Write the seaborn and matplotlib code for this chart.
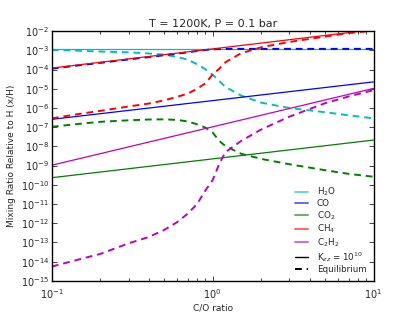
import numpy as np
import pandas as pd
import seaborn as sns
import matplotlib.pyplot as plt
from matplotlib.lines import Line2D

# C/O grid and log10 mixing ratios
co_ratio = [0.1, 0.15, 0.2, 0.3, 0.4, 0.5, 0.6, 0.7, 0.8, 0.9, 1.0, 1.1, 1.2, 1.5, 2, 3, 5, 7, 10]

# Kzz = 1e10 (solid, straight in log-log)
h2o_kzz = [-2.92] * len(co_ratio)
co_kzz_ends = (-6.59, -4.64)
co2_kzz_ends = (-9.63, -7.67)
ch4_kzz_ends = (-3.92, -1.92)
c2h2_kzz_ends = (-8.98, -4.98)

# Equilibrium (dashed)
h2o_eq = [-2.97, -3.02, -3.06, -3.10, -3.16, -3.22, -3.34, -3.48, -3.72, -3.98,
          -4.27, -4.60, -4.90, -5.35, -5.72, -6.00, -6.22, -6.38, -6.54]
co_eq = [-3.95, -3.77, -3.65, -3.47, -3.35, -3.25, -3.17, -3.10, -3.03, -2.98,
         -2.94, -2.93, -2.92, -2.92, -2.92, -2.92, -2.92, -2.92, -2.92]
co2_eq = [-6.98, -6.82, -6.72, -6.64, -6.60, -6.59, -6.62, -6.70, -6.85, -7.02,
          -7.28, -7.72, -7.98, -8.38, -8.65, -8.93, -9.24, -9.43, -9.58]
ch4_eq = [-6.54, -6.30, -6.15, -5.92, -5.77, -5.60, -5.42, -5.25, -5.00, -4.72,
          -4.25, -3.95, -3.62, -3.15, -2.84, -2.56, -2.28, -2.10, -1.97]
c2h2_eq = [-14.26, -13.87, -13.60, -13.05, -12.72, -12.35, -11.95, -11.50, -11.00, -10.30,
           -9.75, -8.90, -8.30, -7.72, -7.12, -6.45, -5.75, -5.40, -5.07]

species = ["H$_2$O", "CO", "CO$_2$", "CH$_4$", "C$_2$H$_2$"]
colors = ["c", "b", "g", "r", "m"]


def straight(ends):
    # linear in log-log between the two end values
    lx = np.log10(co_ratio)
    return list(ends[0] + (ends[1] - ends[0]) * (lx + 1) / 2)


kzz = [h2o_kzz, straight(co_kzz_ends), straight(co2_kzz_ends),
       straight(ch4_kzz_ends), straight(c2h2_kzz_ends)]
eq = [h2o_eq, co_eq, co2_eq, ch4_eq, c2h2_eq]

sns.set_style("ticks", {"xtick.direction": "in", "ytick.direction": "in",
                        "axes.edgecolor": "black"})
plt.rcParams["font.family"] = ["DejaVu Sans"]
plt.rcParams["mathtext.fontset"] = "dejavusans"

fig = plt.figure(figsize=(4.15, 3.12), dpi=100)
ax = fig.add_axes([0.125, 0.1, 0.775, 0.8])

dash = (0, (3.5, 2.5))
# per species: solid then dashed, so later species sit on top
for name, c, ys_k, ys_e in zip(species, colors, kzz, eq):
    dk = pd.DataFrame({"co": co_ratio, "val": np.power(10.0, ys_k)})
    sns.lineplot(data=dk, x="co", y="val", color=c, linewidth=0.9, ax=ax)
    de = pd.DataFrame({"co": co_ratio, "val": np.power(10.0, ys_e)})
    sns.lineplot(data=de, x="co", y="val", color=c, linewidth=1.4,
                 linestyle=dash, ax=ax)

ax.set_xscale("log")
ax.set_yscale("log")
ax.set_xlim(0.1, 10)
ax.set_ylim(1e-15, 1e-2)
ax.set_yticks([10.0 ** k for k in range(-15, -1)])
ax.yaxis.set_minor_locator(plt.NullLocator())
ax.tick_params(which="both", top=True, right=True, labelsize=7, width=0.6)
ax.tick_params(axis="x", pad=4.5)
ax.tick_params(axis="y", pad=2)
ax.tick_params(which="major", length=3.5)
ax.tick_params(which="minor", length=2)
for s in ax.spines.values():
    s.set_linewidth(1.0)

ax.set_title("T = 1200K, P = 0.1 bar", fontsize=8, pad=3)
ax.set_xlabel("C/O ratio", fontsize=6.5, labelpad=2)
ax.set_ylabel("Mixing Ratio Relative to H (x/H)", fontsize=6.5, labelpad=3)

handles = [Line2D([], [], color=c, lw=1.4, alpha=0.6) for c in colors]
handles += [Line2D([], [], color="k", lw=1.0),
            Line2D([], [], color="k", lw=1.4, linestyle=dash)]
labels = species + ["K$_{zz}$ = $10^{10}$", "Equilibrium"]
ax.legend(handles, labels, loc="lower right", frameon=False, fontsize=6.3,
          handlelength=1.5, handletextpad=1.0, labelspacing=0.12,
          borderaxespad=0.4)

fig.savefig("out.png", dpi=100)
plt.close(fig)
